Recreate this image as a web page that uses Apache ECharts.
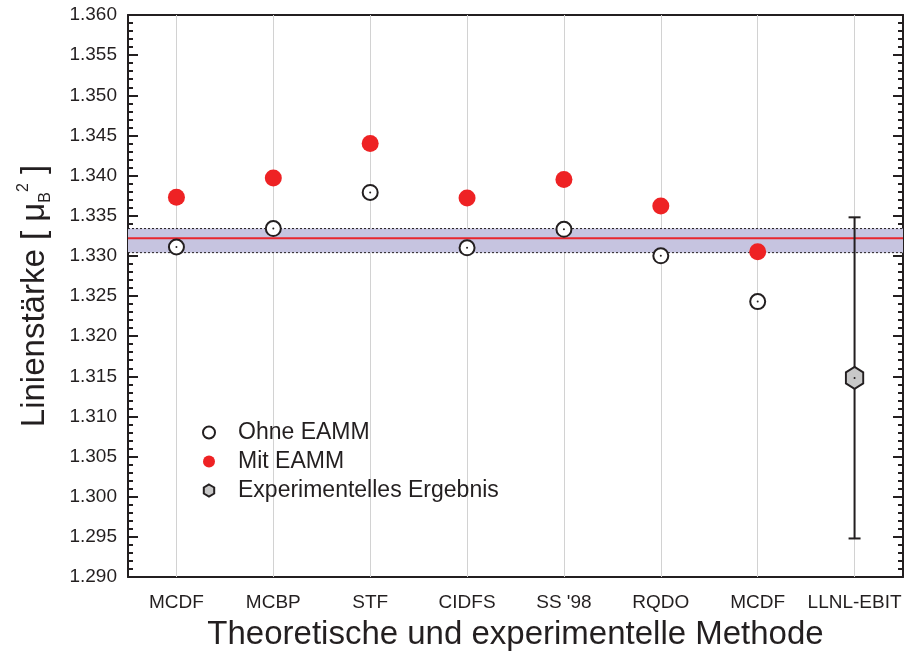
<!DOCTYPE html>
<html>
<head>
  <meta charset="utf-8">
  <title>Linienstärke</title>
  <script src="https://cdn.jsdelivr.net/npm/echarts/dist/echarts.min.js"></script>
  <style>
    html, body { margin: 0; padding: 0; background: #fff; }
    #main { width: 915px; height: 657px; }
  </style>
</head>
<body>

<div id="main"></div>

<script>
  const categories = ['MCDF', 'MCBP', 'STF', 'CIDFS', "SS '98", 'RQDO', 'MCDF', 'LLNL-EBIT'];

  // Linienstärke ohne / mit EAMM (null = kein Wert)
  const ohneEAMM = [1.3311, 1.3334, 1.3379, 1.3310, 1.3333, 1.3300, 1.3243, null];
  const mitEAMM = [1.3373, 1.3397, 1.3440, 1.3372, 1.3395, 1.3362, 1.3305, null];

  // Experiment: [Kategorie, Wert, Fehler]
  const experiment = [[7, 1.3148, 0.0200]];

  // Band: untere Grenze, Mittelwert, obere Grenze
  const band = [[1.3304, 1.3322, 1.3334]];

  const textColor = '#231f20';
  const font = 'Liberation Sans';

  const toPoints = arr => arr.map((v, i) => [i, v]).filter(p => p[1] !== null);

  const hexagon = 'path://M0,-10 L8.66,-5 L8.66,5 L0,10 L-8.66,5 L-8.66,-5 Z';

  const yAxisBase = {
    type: 'value',
    min: 1.29,
    max: 1.36,
    interval: 0.005,
    axisLine: { show: true, lineStyle: { color: textColor, width: 2 } },
    axisTick: { show: true, inside: true, length: 10, lineStyle: { color: textColor, width: 2 } },
    minorTick: { show: true, splitNumber: 5, length: 5, lineStyle: { color: textColor, width: 2 } },
    splitLine: { show: false }
  };

  var myChart = echarts.init(document.getElementById('main'));

  var option = {
    animation: false,
    textStyle: { fontFamily: font, color: textColor },
    grid: { left: 128, right: 12, top: 15, bottom: 80 },
    legend: {
      orient: 'vertical',
      left: 197,
      top: 416,
      itemWidth: 12,
      itemHeight: 12,
      itemGap: 6,
      data: ['Ohne EAMM', 'Mit EAMM', 'Experimentelles Ergebnis'],
      textStyle: { fontSize: 23, lineHeight: 23, color: textColor, fontFamily: font, padding: [0, 0, 0, 18] }
    },
    xAxis: [
      {
        type: 'category',
        data: categories,
        position: 'bottom',
        name: 'Theoretische und experimentelle Methode',
        nameLocation: 'middle',
        nameGap: 41,
        nameTextStyle: { fontSize: 33, color: textColor, fontFamily: font },
        axisLine: { lineStyle: { color: textColor, width: 2 } },
        axisTick: { alignWithLabel: true, length: 7, lineStyle: { color: textColor, width: 2 } },
        axisLabel: { fontSize: 19, color: textColor, margin: 16, interval: 0 },
        splitLine: { show: false }
      },
      {
        type: 'category',
        data: categories,
        position: 'top',
        axisLine: { lineStyle: { color: textColor, width: 2 } },
        axisTick: { alignWithLabel: true, inside: true, length: 7, lineStyle: { color: textColor, width: 2 } },
        axisLabel: { show: false },
        splitLine: { show: false }
      }
    ],
    yAxis: [
      Object.assign({}, yAxisBase, {
        position: 'left',
        name: '{t|Linienstärke [ μ}{sub|B}{sup|2}{t| ]}',
        nameLocation: 'middle',
        nameGap: 74,
        nameTextStyle: {
          color: textColor,
          fontFamily: font,
          rich: {
            t: { fontSize: 33, fontFamily: font, color: textColor, lineHeight: 38 },
            sub: { fontSize: 16, fontFamily: font, color: textColor, verticalAlign: 'bottom', lineHeight: 38, padding: [13, 0, 0, 0] },
            sup: { fontSize: 16, fontFamily: font, color: textColor, verticalAlign: 'top', lineHeight: 38, padding: [0, 0, 15, 0] }
          }
        },
        axisLabel: {
          fontSize: 19,
          color: textColor,
          margin: 11,
          formatter: v => v.toFixed(3)
        }
      }),
      Object.assign({}, yAxisBase, {
        position: 'right',
        axisLabel: { show: false }
      })
    ],
    series: [
      {
        name: 'grid',
        type: 'scatter',
        data: [],
        z: 1,
        markLine: {
          silent: true,
          symbol: 'none',
          z: 1,
          label: { show: false },
          lineStyle: { color: '#d2d2d2', width: 1, type: 'solid' },
          data: categories.map((c, i) => ({ xAxis: i }))
        }
      },
      {
        name: 'band',
        type: 'custom',
        z: 2,
        silent: true,
        data: band,
        encode: { y: [0, 1, 2] },
        renderItem: function (params, api) {
          const cs = params.coordSys;
          const yLow = api.coord([0, api.value(0)])[1];
          const yMid = api.coord([0, api.value(1)])[1];
          const yHigh = api.coord([0, api.value(2)])[1];
          const x1 = cs.x;
          const x2 = cs.x + cs.width;
          const dash = { stroke: textColor, lineWidth: 1, lineDash: [2, 2] };
          return {
            type: 'group',
            children: [
              { type: 'rect', shape: { x: x1, y: yHigh, width: x2 - x1, height: yLow - yHigh }, style: { fill: '#c6c4e0' } },
              { type: 'line', shape: { x1: x1, y1: yHigh, x2: x2, y2: yHigh }, style: dash },
              { type: 'line', shape: { x1: x1, y1: yLow, x2: x2, y2: yLow }, style: dash },
              { type: 'line', shape: { x1: x1, y1: yMid, x2: x2, y2: yMid }, style: { stroke: '#e8262d', lineWidth: 2 } }
            ]
          };
        }
      },
      {
        name: 'Mit EAMM',
        type: 'scatter',
        z: 4,
        symbol: 'circle',
        symbolSize: 17,
        itemStyle: { color: '#ee2224', opacity: 1 },
        data: toPoints(mitEAMM)
      },
      {
        name: 'Ohne EAMM',
        type: 'scatter',
        z: 4,
        symbol: 'circle',
        symbolSize: 15,
        itemStyle: { color: '#ffffff', borderColor: textColor, borderWidth: 2, opacity: 1 },
        data: toPoints(ohneEAMM)
      },
      {
        name: 'Ohne EAMM dot',
        type: 'scatter',
        z: 5,
        symbol: 'circle',
        symbolSize: 2,
        silent: true,
        itemStyle: { color: textColor, opacity: 1 },
        data: toPoints(ohneEAMM).concat(experiment.map(e => [e[0], e[1]]))
      },
      {
        name: 'errorbar',
        type: 'custom',
        z: 4,
        silent: true,
        data: experiment,
        renderItem: function (params, api) {
          const x = api.value(0);
          const top = api.coord([x, api.value(1) + api.value(2)]);
          const bottom = api.coord([x, api.value(1) - api.value(2)]);
          const cap = 6;
          const style = { stroke: textColor, lineWidth: 2 };
          return {
            type: 'group',
            children: [
              { type: 'line', shape: { x1: top[0], y1: top[1], x2: bottom[0], y2: bottom[1] }, style: style },
              { type: 'line', shape: { x1: top[0] - cap, y1: top[1], x2: top[0] + cap, y2: top[1] }, style: style },
              { type: 'line', shape: { x1: bottom[0] - cap, y1: bottom[1], x2: bottom[0] + cap, y2: bottom[1] }, style: style }
            ]
          };
        }
      },
      {
        name: 'Experimentelles Ergebnis',
        type: 'scatter',
        z: 4,
        symbol: hexagon,
        symbolSize: [20, 22],
        symbolKeepAspect: true,
        itemStyle: { color: '#c8c8c8', borderColor: textColor, borderWidth: 2, opacity: 1 },
        data: experiment.map(e => [e[0], e[1]])
      }
    ]
  };

  myChart.setOption(option);
</script>
</body>
</html>
